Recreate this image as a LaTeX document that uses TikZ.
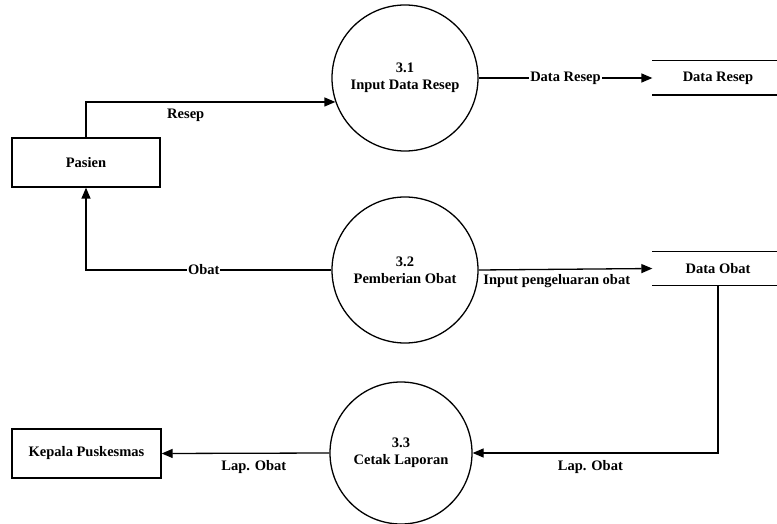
\documentclass[tikz,border=0pt]{standalone}
\usepackage{fontspec}
\setmainfont{Liberation Serif}[BoldFont={Liberation Serif Bold}]
\newfontfamily\dfdfont{Liberation Serif}[BoldFont={Liberation Serif Bold}]
\usetikzlibrary{arrows.meta,calc}
\begin{document}
\begin{tikzpicture}[x=1pt,y=-1pt,
  font=\dfdfont\bfseries\fontsize{14.5}{17}\selectfont,
  line width=1.3pt,
  proc/.style={circle, draw, minimum size=146pt, inner sep=0pt, align=center, line width=1.3pt},
  ent/.style={rectangle, draw, minimum height=49pt, inner sep=0pt, line width=1.3pt},
  store/.style={rectangle, minimum width=130pt, minimum height=33pt, inner sep=0pt},
  flow/.style={-{Triangle[length=11pt,width=9pt]}, line width=1.3pt},
  lbl/.style={fill=white, inner sep=1pt}]
\useasboundingbox[fill=white] (0,0) rectangle (777,524);

\node[ent, minimum width=148pt] (pas) at (86,162.5) {Pasien};
\node[ent, minimum width=149pt] (kep) at (86.5,453.5) {Kepala Puskesmas};

\node[proc] (c31) at (405,78) {3.1\\Input Data Resep};
\node[proc] (c32) at (405,270) {3.2\\Pemberian Obat};
\node[proc, minimum size=142pt] (c33) at (401,453) {3.3\\Cetak Laporan};

\node[store] (sR) at (718,78) {Data Resep};
\node[store] (sO) at (718,268.5) {Data Obat};
\draw (sR.north west) -- (sR.north east);
\draw (sR.south west) -- (sR.south east);
\draw (sO.north west) -- (sO.north east);
\draw (sO.south west) -- (sO.south east);

\draw[flow] (pas.north) |- node[pos=0.7, below=3pt]{Resep} (c31.199);
\draw[flow] (c31.east) -- node[lbl]{Data Resep} (sR.west);
\draw[flow] (c32.west) -| node[pos=0.26, lbl]{Obat} (pas.south);
\draw[flow] (c32.east) -- node[below=1pt, pos=0.45]{Input pengeluaran obat} (sO.west);
\draw[flow] (sO.south) |- node[pos=0.76, below=3pt]{Lap. Obat} (c33.east);
\draw[flow] (c33.west) -- node[below=3pt, pos=0.45]{Lap. Obat} (kep.east);
\end{tikzpicture}
\end{document}
